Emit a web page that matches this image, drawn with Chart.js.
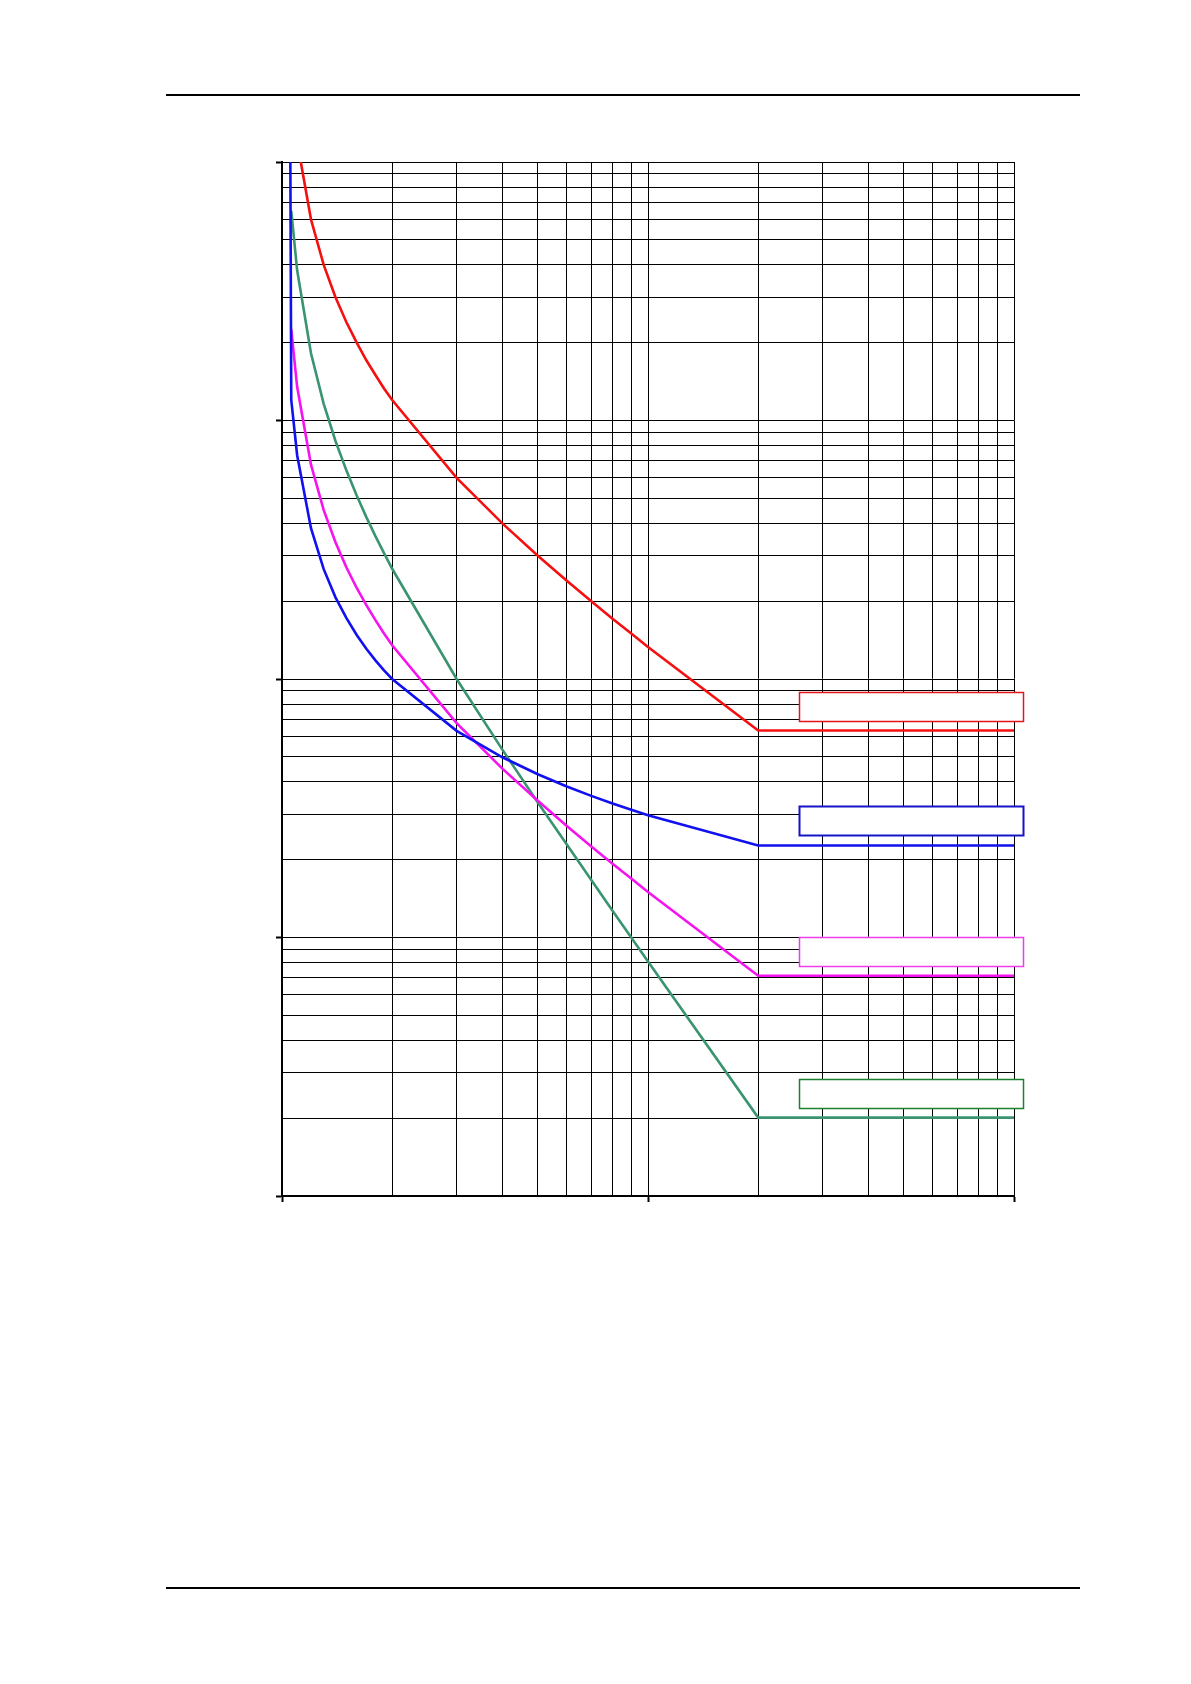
<!DOCTYPE html>
<html>
<head>
<meta charset="utf-8">
<script src="https://cdn.jsdelivr.net/npm/chart.js@4/dist/chart.umd.min.js"></script>
<style>
  html, body { margin: 0; padding: 0; background: #fff; }
  body { width: 1191px; height: 1684px; position: relative; overflow: hidden; }
  .rule { position: absolute; left: 166px; width: 914px; height: 2px; background: #000; }
  #wrap { position: absolute; left: 200px; top: 130px; width: 860px; height: 1100px; }
</style>
</head>
<body>
<div class="rule" style="top:94px"></div>
<div class="rule" style="top:1587px"></div>
<div id="wrap"><canvas id="curves" width="860" height="1100"></canvas></div>
<script>
// Multiple of setting current (I / Is)
const currentMultiple = [1.054, 1.06, 1.1, 1.2, 1.3, 1.4, 1.5, 1.6, 1.7, 1.8, 1.9, 2, 3, 4, 5, 6, 7, 8, 9, 10, 20, 100];

// Operating time (s) for each characteristic
const standardInverse  = [100, 12.0, 7.34, 3.83, 2.66, 2.07, 1.72, 1.48, 1.31, 1.18, 1.08, 1.0, 0.630, 0.498, 0.428, 0.384, 0.353, 0.330, 0.312, 0.297, 0.227, 0.227];
const veryInverse      = [null, 22.5, 13.5, 6.75, 4.5, 3.38, 2.7, 2.25, 1.93, 1.69, 1.5, 1.35, 0.675, 0.45, 0.338, 0.27, 0.225, 0.193, 0.169, 0.15, 0.0711, 0.0711];
const extremelyInverse = [null, 64.7, 38.1, 18.2, 11.6, 8.33, 6.4, 5.13, 4.23, 3.57, 3.07, 2.67, 1.0, 0.533, 0.333, 0.229, 0.167, 0.127, 0.1, 0.0808, 0.0201, 0.0201];
const longTimeInverse  = [null, null, 120, 60, 40, 30, 24, 20, 17.1, 15, 13.3, 12, 6, 4, 3, 2.4, 2, 1.71, 1.5, 1.33, 0.632, 0.632];

// Axis ranges (decades)
const xRange = [1, 100];
const yRange = [0.01, 100];

const seriesColors = { lti: '#f50f0f', si: '#1010f0', vi: '#f514f0', ei: '#3a9470' };
const boxColors    = { lti: '#e4141c', si: '#1414c8', vi: '#ec3cec', ei: '#1e802e' };

function toPoints(values) {
  const pts = [];
  values.forEach((v, i) => { if (v !== null) pts.push({ x: currentMultiple[i], y: v }); });
  return pts;
}

// Log grid: 1..9 in every decade between lo and hi
function logGrid(lo, hi) {
  const out = [];
  for (let d = Math.round(Math.log10(lo)); d < Math.round(Math.log10(hi)); d++) {
    for (let m = 1; m <= 9; m++) out.push(m * Math.pow(10, d));
  }
  out.push(hi);
  return out;
}
function isDecade(v) {
  const l = Math.log10(v);
  return Math.abs(l - Math.round(l)) < 1e-9;
}

// Empty label frames sitting just above each curve's definite-time level
const frames = [
  { level: longTimeInverse,  color: boxColors.lti, width: 1.5 },
  { level: standardInverse,  color: boxColors.si,  width: 2 },
  { level: veryInverse,      color: boxColors.vi,  width: 1.5 },
  { level: extremelyInverse, color: boxColors.ei,  width: 1.5 }
];

const framePlugin = {
  id: 'frames',
  afterDatasetsDraw(chart) {
    const { ctx, scales: { x, y }, chartArea } = chart;
    const left = x.getPixelForValue(25.9);
    const right = chartArea.right + 9;
    ctx.save();
    frames.forEach(f => {
      const flat = f.level[f.level.length - 1];
      const base = y.getPixelForValue(flat);
      const top = Math.round(base - 39) + 0.5;
      const h = 29;
      ctx.fillStyle = '#fff';
      ctx.fillRect(left, top, right - left, h);
      ctx.strokeStyle = f.color;
      ctx.lineWidth = f.width;
      ctx.strokeRect(Math.round(left) + 0.5, top, Math.round(right - left), h);
    });
    ctx.restore();
  }
};

function axisOptions(range) {
  const grid = logGrid(range[0], range[1]);
  return {
    type: 'logarithmic',
    min: range[0],
    max: range[1],
    afterBuildTicks(axis) { axis.ticks = grid.map(v => ({ value: v })); },
    ticks: { display: false },
    grid: {
      color: '#000',
      lineWidth: 1,
      drawTicks: true,
      tickLength: 6,
      tickWidth: 2,
      tickColor: c => (c.tick && isDecade(c.tick.value)) ? '#000' : 'rgba(0,0,0,0)'
    },
    border: { display: true, color: '#000', width: 2 }
  };
}

const line = (values, color) => ({
  data: toPoints(values),
  borderColor: color,
  backgroundColor: color,
  borderWidth: 2.6,
  pointRadius: 0,
  tension: 0,
  fill: false
});

new Chart(document.getElementById('curves'), {
  type: 'line',
  data: {
    datasets: [
      line(standardInverse, seriesColors.si),
      line(veryInverse, seriesColors.vi),
      line(extremelyInverse, seriesColors.ei),
      line(longTimeInverse, seriesColors.lti)
    ]
  },
  options: {
    responsive: false,
    animation: false,
    devicePixelRatio: 1,
    parsing: true,
    layout: { padding: { left: 76, top: 32, right: 46, bottom: 28 } },
    plugins: { legend: { display: false }, tooltip: { enabled: false }, title: { display: false } },
    scales: {
      x: axisOptions(xRange),
      y: axisOptions(yRange)
    }
  },
  plugins: [framePlugin]
});
</script>
</body>
</html>
